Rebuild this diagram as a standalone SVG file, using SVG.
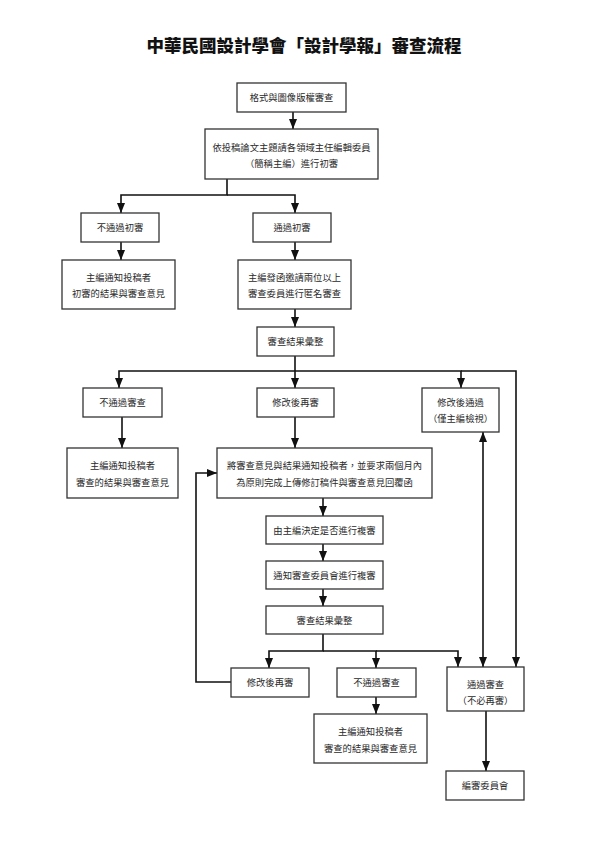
<svg xmlns="http://www.w3.org/2000/svg" width="595" height="841" viewBox="0 0 595 841">
<defs>
<marker id="ah" viewBox="0 0 10 8" refX="10" refY="4" markerWidth="10" markerHeight="8" markerUnits="userSpaceOnUse" orient="auto-start-reverse">
<path d="M0,0 L10,4 L0,8 z" fill="#111"/>
</marker>
<style>
.b{fill:#fff;stroke:#333;stroke-width:1.3}
.t{font-family:"Noto Sans CJK TC","Noto Sans CJK JP",sans-serif;font-size:9.3px;fill:#2a2a2a;text-anchor:middle}
.c{fill:none;stroke:#111;stroke-width:1.6}
.title{font-family:"Noto Sans CJK TC","Noto Sans CJK JP",sans-serif;font-size:17.5px;font-weight:900;fill:#111;text-anchor:middle}
</style>
</defs>
<rect width="595" height="841" fill="#fff"/>
<text class="title" x="304" y="52">中華民國設計學會「設計學報」審查流程</text>

<g id="connectors">
<path class="c" d="M293,112 V129" marker-end="url(#ah)"/>
<path class="c" d="M227,179 V195 H121 V213" marker-end="url(#ah)"/>
<path class="c" d="M227,195 H295 V213" marker-end="url(#ah)"/>
<path class="c" d="M121,242 V260" marker-end="url(#ah)"/>
<path class="c" d="M295,242 V260" marker-end="url(#ah)"/>
<path class="c" d="M295,309 V327" marker-end="url(#ah)"/>
<path class="c" d="M295,356 V388" marker-end="url(#ah)"/>
<path class="c" d="M295,371 H119 V388" marker-end="url(#ah)"/>
<path class="c" d="M295,371 H461 V388" marker-end="url(#ah)"/>
<path class="c" d="M461,371 H516 V667" marker-end="url(#ah)"/>
<path class="c" d="M122,417 V448" marker-end="url(#ah)"/>
<path class="c" d="M295,417 V448" marker-end="url(#ah)"/>
<path class="c" d="M483,432 V667" marker-start="url(#ah)" marker-end="url(#ah)"/>
<path class="c" d="M323,498 V516" marker-end="url(#ah)"/>
<path class="c" d="M323,544 V561" marker-end="url(#ah)"/>
<path class="c" d="M323,589 V606" marker-end="url(#ah)"/>
<path class="c" d="M323,634 V651 H269 V668" marker-end="url(#ah)"/>
<path class="c" d="M323,651 H376 V668" marker-end="url(#ah)"/>
<path class="c" d="M376,651 H458 V667" marker-end="url(#ah)"/>
<path class="c" d="M231,682 H196 V473 H217" marker-end="url(#ah)"/>
<path class="c" d="M376,697 V714" marker-end="url(#ah)"/>
<path class="c" d="M486,711 V771" marker-end="url(#ah)"/>
</g>

<g id="n1"><rect class="b" x="237" y="83" width="109" height="29"/><text class="t" x="291.5" y="101">格式與圖像版權審查</text></g>
<g id="n2"><rect class="b" x="205" y="129" width="173" height="50"/><text class="t" x="291.5" y="151">依投稿論文主題請各領域主任編輯委員</text><text class="t" x="291.5" y="167">（簡稱主編）進行初審</text></g>
<g id="n3"><rect class="b" x="81" y="213" width="78" height="29"/><text class="t" x="120" y="231">不通過初審</text></g>
<g id="n4"><rect class="b" x="253" y="213" width="78" height="29"/><text class="t" x="292" y="231">通過初審</text></g>
<g id="n5"><rect class="b" x="62" y="260" width="113" height="49"/><text class="t" x="118.5" y="281">主編通知投稿者</text><text class="t" x="118.5" y="297">初審的結果與審查意見</text></g>
<g id="n6"><rect class="b" x="238" y="260" width="113" height="49"/><text class="t" x="294.5" y="281">主編發函邀請兩位以上</text><text class="t" x="294.5" y="297">審查委員進行匿名審查</text></g>
<g id="n7"><rect class="b" x="257" y="327" width="77" height="29"/><text class="t" x="295.5" y="345">審查結果彙整</text></g>
<g id="n8"><rect class="b" x="83" y="388" width="79" height="29"/><text class="t" x="122.5" y="406">不通過審查</text></g>
<g id="n9"><rect class="b" x="257" y="388" width="77" height="29"/><text class="t" x="295.5" y="406">修改後再審</text></g>
<g id="n10"><rect class="b" x="422" y="388" width="77" height="44"/><text class="t" x="460.5" y="406">修改後通過</text><text class="t" x="460.5" y="422">（僅主編檢視）</text></g>
<g id="n11"><rect class="b" x="67" y="448" width="111" height="50"/><text class="t" x="122.5" y="469">主編通知投稿者</text><text class="t" x="122.5" y="486">審查的結果與審查意見</text></g>
<g id="n12"><rect class="b" x="217" y="448" width="215" height="50"/><text class="t" x="324.5" y="469">將審查意見與結果通知投稿者，並要求兩個月內</text><text class="t" x="324.5" y="486">為原則完成上傳修訂稿件與審查意見回覆函</text></g>
<g id="n13"><rect class="b" x="266" y="516" width="117" height="28"/><text class="t" x="324.5" y="533.5">由主編決定是否進行複審</text></g>
<g id="n14"><rect class="b" x="266" y="561" width="117" height="28"/><text class="t" x="324.5" y="578.5">通知審查委員會進行複審</text></g>
<g id="n15"><rect class="b" x="266" y="606" width="117" height="28"/><text class="t" x="324.5" y="623.5">審查結果彙整</text></g>
<g id="n16"><rect class="b" x="231" y="668" width="78" height="29"/><text class="t" x="270" y="686">修改後再審</text></g>
<g id="n17"><rect class="b" x="337" y="668" width="79" height="29"/><text class="t" x="376.5" y="686">不通過審查</text></g>
<g id="n18"><rect class="b" x="447" y="667" width="77" height="44"/><text class="t" x="485.5" y="687.5">通過審查</text><text class="t" x="485.5" y="704">（不必再審）</text></g>
<g id="n19"><rect class="b" x="314" y="714" width="113" height="49"/><text class="t" x="370.5" y="735">主編通知投稿者</text><text class="t" x="370.5" y="751.5">審查的結果與審查意見</text></g>
<g id="n20"><rect class="b" x="446" y="771" width="78" height="29"/><text class="t" x="485" y="789">編審委員會</text></g>
</svg>
